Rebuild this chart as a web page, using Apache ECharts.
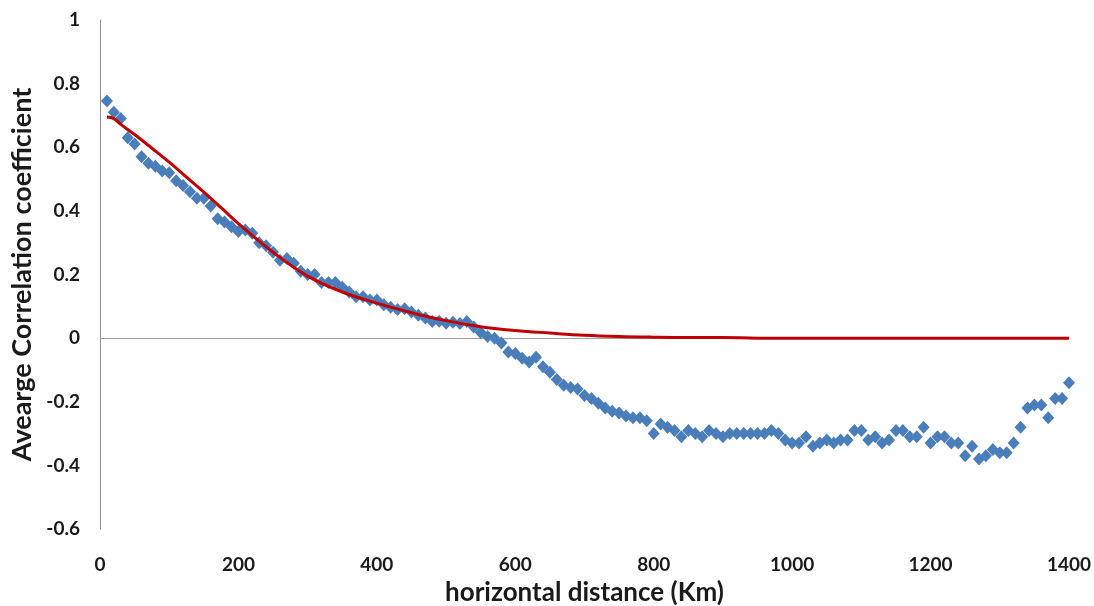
<!DOCTYPE html>
<html>
<head>
<meta charset="utf-8">
<script src="https://cdn.jsdelivr.net/npm/echarts@6/dist/echarts.min.js"></script>
<style>
html,body{margin:0;padding:0;background:#fff;}
#chart{width:1094px;height:606px;}
</style>
</head>
<body>
<div id="chart"></div>
<script>
// Observed points: distance (km) and average correlation coefficient
const distances = [];
for (let d = 10; d <= 1400; d += 10) distances.push(d);
const observed = [
  0.745, 0.71, 0.69, 0.63, 0.61, 0.57, 0.55, 0.54, 0.525, 0.52,
  0.495, 0.48, 0.46, 0.44, 0.44, 0.415, 0.375, 0.365, 0.35, 0.335,
  0.34, 0.33, 0.30, 0.29, 0.27, 0.245, 0.25, 0.235, 0.21, 0.20,
  0.20, 0.175, 0.175, 0.175, 0.16, 0.145, 0.13, 0.13, 0.12, 0.12,
  0.105, 0.097, 0.09, 0.092, 0.082, 0.072, 0.063, 0.052, 0.053, 0.047,
  0.05, 0.046, 0.052, 0.035, 0.018, 0.005, 0.0, -0.015, -0.044, -0.048,
  -0.063, -0.075, -0.06, -0.09, -0.107, -0.13, -0.148, -0.155, -0.16, -0.18,
  -0.19, -0.205, -0.22, -0.23, -0.235, -0.245, -0.25, -0.25, -0.26, -0.30,
  -0.27, -0.28, -0.29, -0.31, -0.29, -0.30, -0.31, -0.29, -0.30, -0.31,
  -0.30, -0.30, -0.30, -0.30, -0.30, -0.30, -0.29, -0.30, -0.32, -0.33,
  -0.33, -0.31, -0.34, -0.33, -0.32, -0.33, -0.32, -0.32, -0.29, -0.29,
  -0.32, -0.31, -0.33, -0.32, -0.29, -0.29, -0.31, -0.31, -0.28, -0.33,
  -0.31, -0.31, -0.33, -0.33, -0.37, -0.34, -0.38, -0.37, -0.35, -0.36,
  -0.36, -0.33, -0.28, -0.22, -0.21, -0.21, -0.25, -0.19, -0.19, -0.14
];
// Fitted curve (red line)
const fitDistances = [10, 20, 30, 50, 75, 100, 125, 150, 175, 200, 250, 300, 350, 400, 450, 500, 550, 600, 650, 700, 750, 800, 850, 900, 950, 1000, 1200, 1400];
const fitValues = [0.695, 0.69, 0.672, 0.64, 0.597, 0.553, 0.506, 0.459, 0.41, 0.36, 0.27, 0.195, 0.145, 0.11, 0.08, 0.055, 0.036, 0.024, 0.016, 0.009, 0.005, 0.003, 0.002, 0.002, 0.0, 0.0, 0.0, 0.0];
const xTicks = [0, 200, 400, 600, 800, 1000, 1200, 1400];
const yTicks = [-0.6, -0.4, -0.2, 0, 0.2, 0.4, 0.6, 0.8, 1];

const chart = echarts.init(document.getElementById('chart'), null, {renderer: 'canvas'});
const font = 'Lato, "Open Sans", sans-serif';
chart.setOption({
  animation: false,
  backgroundColor: '#ffffff',
  grid: {left: 100, right: 25, top: 20, bottom: 77, containLabel: false, outerBoundsMode: 'none'},
  xAxis: {
    type: 'value', min: xTicks[0], max: xTicks[xTicks.length - 1], interval: 200,
    axisLine: {show: false}, axisTick: {show: false}, splitLine: {show: false},
    axisLabel: {fontFamily: font, fontWeight: 'bold', fontSize: 19, color: '#1a1a1a', margin: 26,
      formatter: v => String(v)},
    name: 'horizontal distance (Km)', nameLocation: 'middle', nameGap: 51,
    nameTextStyle: {fontFamily: font, fontWeight: 'bold', fontSize: 26, color: '#1a1a1a'}
  },
  yAxis: {
    type: 'value', min: yTicks[0], max: yTicks[yTicks.length - 1], interval: 0.2,
    axisLine: {show: true, onZero: false, lineStyle: {color: '#8c8c8c', width: 1}},
    axisTick: {show: false}, splitLine: {show: false},
    axisLabel: {fontFamily: font, fontWeight: 'bold', fontSize: 19, color: '#1a1a1a', margin: 20,
      formatter: v => String(Math.round(v * 10) / 10)},
    name: 'Avearge Correlation coefficient', nameLocation: 'middle', nameGap: 60, nameRotate: 90,
    nameTextStyle: {fontFamily: font, fontWeight: 'bold', fontSize: 27, color: '#1a1a1a'}
  },
  series: [
    {
      type: 'scatter', name: 'zero', data: [], z: 1,
      markLine: {
        silent: true, symbol: 'none', label: {show: false}, z: 1,
        lineStyle: {color: '#a0a0a0', width: 1, type: 'solid'},
        data: [{yAxis: 0}]
      }
    },
    {
      type: 'scatter', name: 'observed',
      data: distances.map((d, i) => [d, observed[i]]),
      symbol: 'diamond', symbolSize: [12, 13],
      itemStyle: {color: '#4a7ebb', opacity: 1},
      z: 3
    },
    {
      type: 'line', name: 'fit',
      data: fitDistances.map((d, i) => [d, fitValues[i]]),
      smooth: 0.4, showSymbol: false,
      lineStyle: {color: '#c00000', width: 3},
      z: 5
    }
  ]
});
</script>
</body>
</html>
